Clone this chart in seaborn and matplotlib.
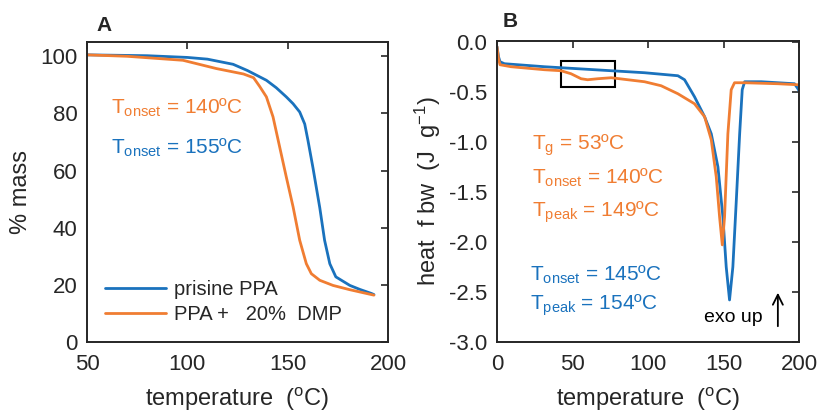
import matplotlib
matplotlib.use("Agg")
import matplotlib.pyplot as plt
import seaborn as sns
import pandas as pd
from matplotlib.patches import Rectangle

sns.set_theme(style="white")
plt.rcParams['font.family'] = ['Liberation Sans', 'DejaVu Sans']
plt.rcParams['mathtext.fontset'] = 'custom'
plt.rcParams['mathtext.rm'] = 'Liberation Sans'
plt.rcParams['mathtext.it'] = 'Liberation Sans'
plt.rcParams['mathtext.bf'] = 'Liberation Sans:bold'

BLUE = "#1A72BD"
ORANGE = "#F07D32"

# Panel A (TGA)
tga_blue_x = [50, 80, 100, 110, 122.8, 130, 139.4, 144.3, 149.3, 152.7, 156, 158.5, 160.1, 162.6, 166, 168.4, 171, 174, 181, 186, 191.7, 193]
tga_blue_y = [100.5, 100.2, 99.6, 99.0, 97.2, 95.0, 91.6, 89.0, 85.8, 83.4, 80.5, 76.3, 70.6, 61.0, 47.0, 35.6, 27.4, 22.8, 19.8, 18.4, 17.0, 16.6]
tga_orange_x = [50, 70, 97.8, 114.5, 128, 133, 136, 139.4, 142.7, 146, 149.3, 152.7, 156, 159.3, 161.8, 166, 172.6, 181, 191.7, 193]
tga_orange_y = [100.5, 100.0, 98.6, 95.7, 93.8, 92.5, 89.5, 85.8, 78.8, 68.3, 57.8, 47.3, 35.6, 27.4, 23.9, 21.6, 19.8, 18.3, 16.6, 16.4]

# Panel B (DSC)
dsc_blue_x = [0, 1, 2, 4.9, 31.4, 53.5, 75.6, 97.7, 119.8, 124.2, 130.8, 137.5, 141.9, 146.3, 149.6, 151.8, 154, 156.2, 158.5, 160.7, 162.4, 164, 175, 186, 197, 199.3, 200]
dsc_blue_y = [-0.05, -0.15, -0.20, -0.22, -0.25, -0.27, -0.29, -0.31, -0.34, -0.38, -0.55, -0.75, -0.92, -1.25, -1.75, -2.25, -2.58, -2.25, -1.58, -0.92, -0.48, -0.40, -0.40, -0.41, -0.42, -0.47, -0.49]
dsc_orange_x = [0, 1, 2, 9.3, 31.4, 42.4, 49, 55.7, 60, 66.7, 75.6, 86.6, 97.7, 108.7, 119.8, 130.8, 137.5, 141.9, 145.2, 147.4, 149.2, 150.7, 152.9, 155.1, 157.3, 164, 186, 199.3, 200]
dsc_orange_y = [-0.05, -0.17, -0.23, -0.25, -0.28, -0.29, -0.32, -0.37, -0.38, -0.37, -0.36, -0.38, -0.40, -0.44, -0.52, -0.62, -0.75, -0.98, -1.35, -1.75, -2.03, -1.75, -0.92, -0.48, -0.41, -0.41, -0.42, -0.43, -0.43]

legend_labels = ["prisine PPA", "PPA +   20%  DMP"]

fig = plt.figure(figsize=(8.22, 4.16), dpi=100)
axA = fig.add_axes([87/822, 74/416, 301/822, 300/416])
axB = fig.add_axes([497/822, 74/416, 302/822, 301.3/416])

dfA = pd.concat([
    pd.DataFrame({"x": tga_blue_x, "y": tga_blue_y, "s": legend_labels[0]}),
    pd.DataFrame({"x": tga_orange_x, "y": tga_orange_y, "s": legend_labels[1]}),
])
dfB = pd.concat([
    pd.DataFrame({"x": dsc_blue_x, "y": dsc_blue_y, "s": legend_labels[0]}),
    pd.DataFrame({"x": dsc_orange_x, "y": dsc_orange_y, "s": legend_labels[1]}),
])
pal = {legend_labels[0]: BLUE, legend_labels[1]: ORANGE}

sns.lineplot(data=dfA, x="x", y="y", hue="s", palette=pal, sort=False, estimator=None, lw=2.0, ax=axA)
sns.lineplot(data=dfB, x="x", y="y", hue="s", palette=pal, sort=False, estimator=None, lw=2.0, ax=axB, legend=False)

for ax in (axA, axB):
    for sp in ax.spines.values():
        sp.set_color("#262626")
        sp.set_linewidth(1.4)
    ax.tick_params(direction="in", length=5, width=1.2, top=True, right=True,
                   labelsize=16, colors="#262626", labelcolor="#262626")
    ax.tick_params(axis="y", pad=7)
    ax.tick_params(axis="x", pad=9)

axA.set_xlim(50, 200)
axA.set_ylim(0, 105)
axA.set_xticks([50, 100, 150, 200])
axA.set_yticks([0, 20, 40, 60, 80, 100])
axA.set_xlabel(r"temperature  ($^{\mathrm{o}}$C)", fontsize=17, color="#262626")
axA.set_ylabel("% mass", fontsize=17, color="#262626")
axA.xaxis.set_label_coords(0.5, -0.145)
axA.yaxis.set_label_coords(-0.183, 0.5)
leg = axA.legend(loc="lower left", bbox_to_anchor=(0.0, 0.0), frameon=False, fontsize=14.5,
                 handlelength=3.0, handletextpad=0.4, labelspacing=0.3)
axA.text(62, 82, r"T$_{\mathrm{onset}}$ = 140ºC", color=ORANGE, fontsize=15, va="center")
axA.text(62, 68, r"T$_{\mathrm{onset}}$ = 155ºC", color=BLUE, fontsize=15, va="center")
axA.text(0.033, 1.055, "A", transform=axA.transAxes, fontsize=15, fontweight="bold", va="center")

axB.set_xlim(0, 200)
axB.set_ylim(-3.0, 0.01)
axB.set_xticks([0, 50, 100, 150, 200])
axB.set_yticks([-3.0, -2.5, -2.0, -1.5, -1.0, -0.5, 0.0])
axB.set_yticklabels(["-3.0", "-2.5", "-2.0", "-1.5", "-1.0", "-0.5", "0.0"])
axB.set_xlabel(r"temperature  ($^{\mathrm{o}}$C)", fontsize=17, color="#262626")
axB.set_ylabel(r"heat  f bw  (J  g$^{-1}$)", fontsize=17, color="#262626")
axB.xaxis.set_label_coords(0.5, -0.145)
axB.yaxis.set_label_coords(-0.179, 0.5)
axB.add_patch(Rectangle((42.4, -0.455), 35.7, 0.265, fill=False, edgecolor="black", lw=1.5))
axB.text(23, -1.03, r"T$_{\mathrm{g}}$ = 53ºC", color=ORANGE, fontsize=15, va="center")
axB.text(23, -1.36, r"T$_{\mathrm{onset}}$ = 140ºC", color=ORANGE, fontsize=15, va="center")
axB.text(23, -1.70, r"T$_{\mathrm{peak}}$ = 149ºC", color=ORANGE, fontsize=15, va="center")
axB.text(22, -2.33, r"T$_{\mathrm{onset}}$ = 145ºC", color=BLUE, fontsize=15, va="center")
axB.text(22, -2.63, r"T$_{\mathrm{peak}}$ = 154ºC", color=BLUE, fontsize=15, va="center")
axB.text(137, -2.76, "exo up", color="black", fontsize=14, va="center")
axB.annotate("", xy=(186, -2.48), xytext=(186, -2.87),
             arrowprops=dict(arrowstyle="->", color="black", lw=1.3, mutation_scale=18))
axB.text(0.02, 1.065, "B", transform=axB.transAxes, fontsize=15, fontweight="bold", va="center")

fig.savefig("out.png", dpi=100, facecolor="white")
